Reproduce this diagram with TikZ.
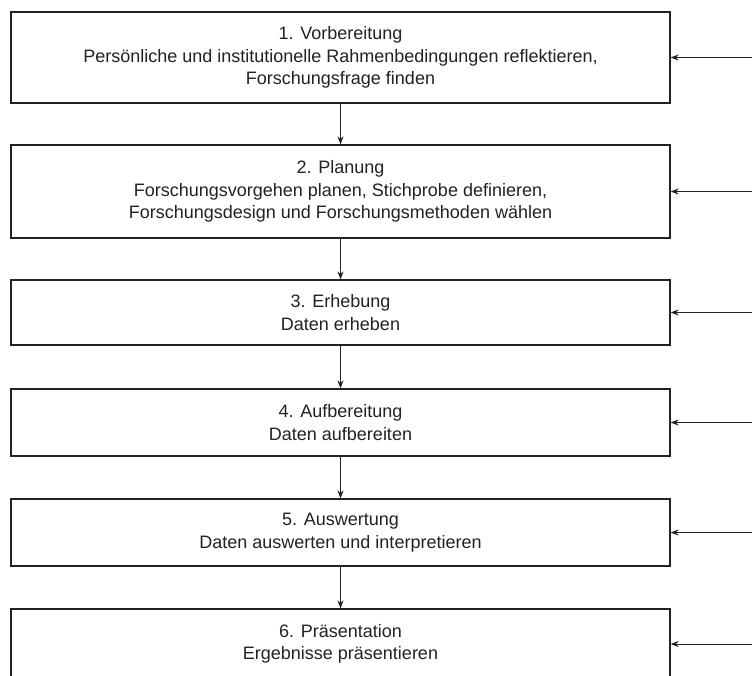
\documentclass[tikz,border=0pt]{standalone}
\usepackage{fontspec}
\setmainfont{Liberation Sans}
\usepackage{xcolor}
\usepackage{tikz}
\usetikzlibrary{arrows.meta}
\definecolor{ink}{HTML}{222222}
\definecolor{paper}{HTML}{FFFFFF}
\tikzset{
  box/.style={draw=ink, line width=1.2pt, fill=paper, text=ink, minimum width=659pt,
    align=center, inner sep=0pt, font=\fontsize{18}{22.5}\selectfont},
  flow/.style={draw=ink, line width=1pt, -{Stealth[length=8pt,width=6pt]}},
}

\begin{document}
\begin{tikzpicture}[x=1pt,y=-1pt]
  \fill[paper] (0,0) rectangle (752,675);
  \useasboundingbox (0,0) rectangle (752,675);
  \foreach \n/\y/\h/\txt in {
    1/57.5/91/{1. Vorbereitung\\Persönliche und institutionelle Rahmenbedingungen reflektieren,\\Forschungsfrage finden},
    2/191.5/93/{2. Planung\\Forschungsvorgehen planen, Stichprobe definieren,\\Forschungsdesign und Forschungsmethoden wählen},
    3/312.5/65/{3. Erhebung\\Daten erheben},
    4/422.5/67/{4. Aufbereitung\\Daten aufbereiten},
    5/532.5/67/{5. Auswertung\\Daten auswerten und interpretieren},
    6/644/70/{6. Präsentation\\Ergebnisse präsentieren}}
    \node[box, minimum height=\h pt] (s\n) at (340.5,\y) {\txt};
  \foreach \a/\b in {1/2,2/3,3/4,4/5,5/6}
    \draw[flow] (s\a) -- (s\b);
  \foreach \n in {1,...,6} {
    \path (s\n.east) ++(85,0) coordinate (in\n); % feedback from the right
    \draw[flow] (in\n) -- (s\n.east);
  }
\end{tikzpicture}
\end{document}
